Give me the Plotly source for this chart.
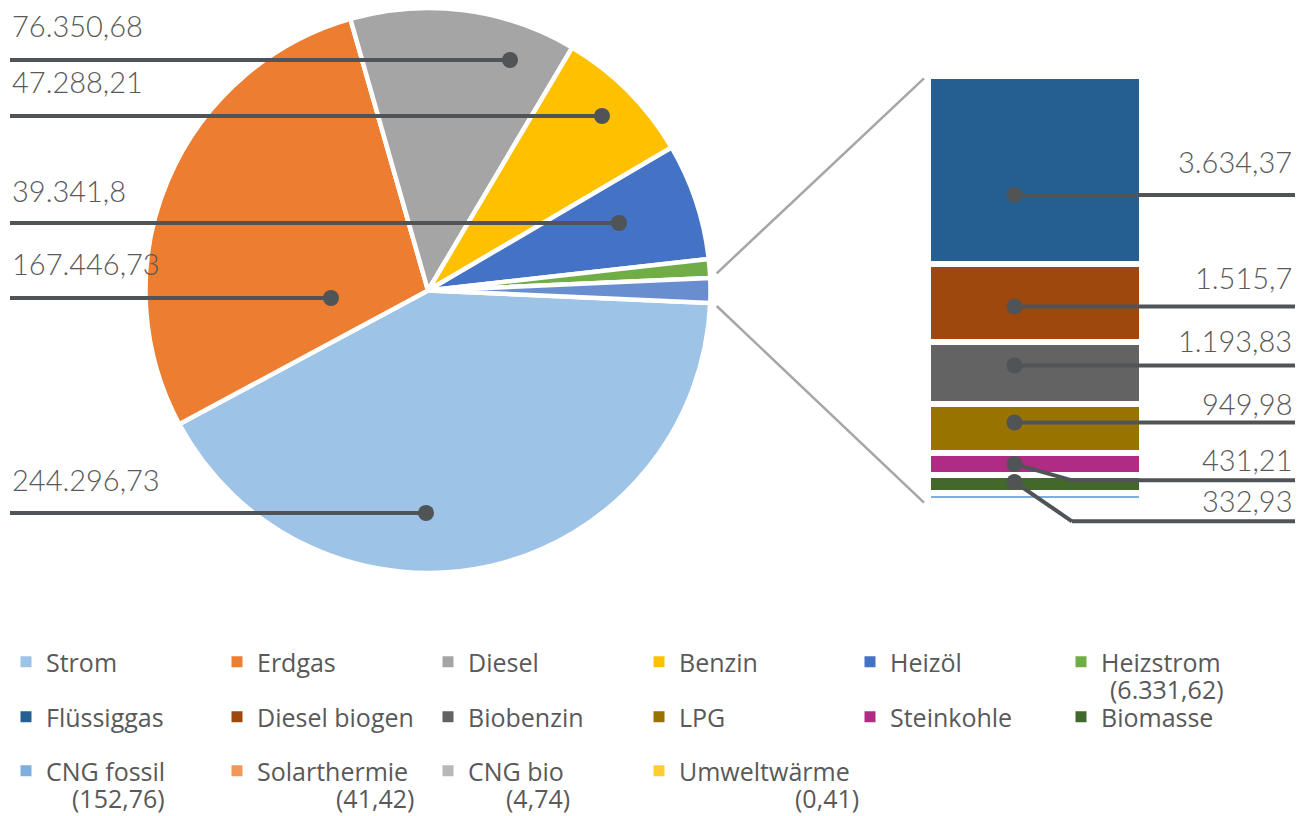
import plotly.graph_objects as go

# ---------------- data ----------------
pie_labels = ["Strom", "Erdgas", "Diesel", "Benzin", "Heizöl", "Heizstrom"]
pie_values = [244296.73, 167446.73, 76350.68, 47288.21, 39341.8, 6331.62]

bar_labels = ["Flüssiggas", "Diesel biogen", "Biobenzin", "LPG", "Steinkohle",
              "Biomasse", "CNG fossil", "Solarthermie", "CNG bio", "Umweltwärme"]
bar_values = [3634.37, 1515.7, 1193.83, 949.98, 431.21, 332.93, 152.76, 41.42, 4.74, 0.41]

other_label = "Weitere"

# ---------------- styles ----------------
pie_colors = ["#9DC3E6", "#ED7D31", "#A5A5A5", "#FFC000", "#4472C4", "#70AD47"]
other_color = "#698ED0"
bar_colors = ["#255E91", "#9E480E", "#636363", "#997300", "#B02B84",
              "#43682B", "#7CAFDD", "#F1975A", "#B7B7B7", "#FFCD33"]

W, H = 1306, 816
LABEL_FONT = dict(family="Lato", size=29, color="#595959", weight=300)
LEG_FONT = dict(family="Open Sans", size=25, color="#595959")
LEADER = "#505456"


def px(x):
    return x / W


def py(y):
    return 1 - y / H


def de(v):
    s = f"{v:,.2f}".rstrip("0").rstrip(".")
    return s.replace(",", "#").replace(".", ",").replace("#", ".")


other_total = sum(bar_values)
total = sum(pie_values) + other_total
rotation = 90 + other_total / total * 360 / 2

fig = go.Figure()

# pie
fig.add_trace(go.Pie(
    labels=pie_labels + [other_label],
    values=pie_values + [other_total],
    sort=False, direction="clockwise", rotation=rotation,
    marker=dict(colors=pie_colors + [other_color], line=dict(color="white", width=4.5)),
    textinfo="none", showlegend=False,
    domain=dict(x=[px(145), px(711)], y=[py(573), py(8)]),
))

# stacked bar (bottom -> top)
for lab, val, col in reversed(list(zip(bar_labels, bar_values, bar_colors))):
    fig.add_trace(go.Bar(
        x=[0], y=[val], width=1, name=lab,
        marker=dict(color=col, line=dict(color="white", width=6)),
        showlegend=False, xaxis="x", yaxis="y",
    ))

# legend entries
all_labels = pie_labels + bar_labels
all_colors = pie_colors + bar_colors
for i, (lab, col) in enumerate(zip(all_labels, all_colors)):
    leg = "legend" if i < 6 else ("legend2" if i < 12 else "legend3")
    fig.add_trace(go.Scatter(
        x=[None], y=[None], mode="markers", name=lab,
        marker=dict(symbol="square", size=11, color=col),
        xaxis="x2", yaxis="y2", legend=leg, showlegend=True,
    ))

shapes = []
annotations = []

# pie labels: (label, text center y, line y, dot x)
pie_label_pos = {
    "Diesel": (25, 60, 510),
    "Benzin": (82, 116, 602),
    "Heizöl": (190, 223, 619),
    "Erdgas": (264, 298, 331),
    "Strom": (479, 513, 426),
}
pie_lookup = dict(zip(pie_labels, pie_values))
for lab, (ty, ly, dx) in pie_label_pos.items():
    annotations.append(dict(x=px(10), y=py(ty), xref="paper", yref="paper",
                            text=de(pie_lookup[lab]), showarrow=False,
                            xanchor="left", yanchor="middle", font=LABEL_FONT))
    shapes.append(dict(type="line", xref="paper", yref="paper",
                       x0=px(10), x1=px(dx), y0=py(ly), y1=py(ly),
                       line=dict(color=LEADER, width=4)))
    shapes.append(dict(type="circle", xref="paper", yref="paper",
                       x0=px(dx - 8), x1=px(dx + 8), y0=py(ly + 8), y1=py(ly - 8),
                       fillcolor=LEADER, line=dict(width=0)))

# bar labels: (label, text center y, line y, dot y, elbow x)
bar_label_pos = {
    "Flüssiggas": (162, 195, 195, None),
    "Diesel biogen": (277, 306.5, 306.5, None),
    "Biobenzin": (340, 365.5, 365.5, None),
    "LPG": (403, 422.5, 422.5, None),
    "Steinkohle": (459, 480.3, 464, 1072),
    "Biomasse": (500, 521.3, 482, 1072),
}
bar_lookup = dict(zip(bar_labels, bar_values))
DOTX = 1014.5
for lab, (ty, ly, dy, ex) in bar_label_pos.items():
    annotations.append(dict(x=px(1294), y=py(ty), xref="paper", yref="paper",
                            text=de(bar_lookup[lab]), showarrow=False,
                            xanchor="right", yanchor="middle", font=LABEL_FONT))
    if ex is None:
        shapes.append(dict(type="line", xref="paper", yref="paper",
                           x0=px(DOTX), x1=px(1295), y0=py(ly), y1=py(ly),
                           line=dict(color=LEADER, width=4)))
    else:
        shapes.append(dict(type="line", xref="paper", yref="paper",
                           x0=px(DOTX), x1=px(ex), y0=py(dy), y1=py(ly),
                           line=dict(color=LEADER, width=4)))
        shapes.append(dict(type="line", xref="paper", yref="paper",
                           x0=px(ex), x1=px(1295), y0=py(ly), y1=py(ly),
                           line=dict(color=LEADER, width=4)))
    shapes.append(dict(type="circle", xref="paper", yref="paper",
                       x0=px(DOTX - 8), x1=px(DOTX + 8), y0=py(dy + 8), y1=py(dy - 8),
                       fillcolor=LEADER, line=dict(width=0)))

# connector lines pie -> bar
for (x0, y0, x1, y1) in [(716.7, 273.3, 924, 78.3), (716.7, 306, 924, 502.7)]:
    shapes.append(dict(type="line", xref="paper", yref="paper", layer="below",
                       x0=px(x0), x1=px(x1), y0=py(y0), y1=py(y1),
                       line=dict(color="#A6A6A6", width=2.5)))

# values of small items shown in legend
legend_values = {
    "Heizstrom": (1226, 689),
    "CNG fossil": (167, 798),
    "Solarthermie": (416, 798),
    "CNG bio": (572, 798),
    "Umweltwärme": (861, 798),
}
val_lookup = {**pie_lookup, **bar_lookup}
for lab, (rx, cy) in legend_values.items():
    annotations.append(dict(x=px(rx), y=py(cy), xref="paper", yref="paper",
                            text=f"({de(val_lookup[lab])})", showarrow=False,
                            xanchor="right", yanchor="middle", font=LEG_FONT))


def legend_cfg(yc):
    return dict(orientation="h", x=px(6), xanchor="left", y=py(yc), yanchor="middle",
                entrywidth=166, entrywidthmode="pixels", font=LEG_FONT,
                traceorder="normal",
                bgcolor="rgba(0,0,0,0)", itemclick=False, itemdoubleclick=False)


fig.update_layout(
    width=W, height=H, margin=dict(l=0, r=0, t=0, b=0),
    paper_bgcolor="white", plot_bgcolor="white",
    barmode="stack",
    xaxis=dict(domain=[px(928), px(1142)], range=[-0.5, 0.5], visible=False, fixedrange=True),
    yaxis=dict(domain=[py(503), py(76)], range=[0, other_total], visible=False, fixedrange=True),
    xaxis2=dict(domain=[0, 0.01], visible=False),
    yaxis2=dict(domain=[0, 0.01], visible=False),
    legend=legend_cfg(662),
    legend2=legend_cfg(717),
    legend3=legend_cfg(771),
    shapes=shapes,
    annotations=annotations,
    showlegend=True,
    hovermode=False,
)

fig.write_html("out.html")
